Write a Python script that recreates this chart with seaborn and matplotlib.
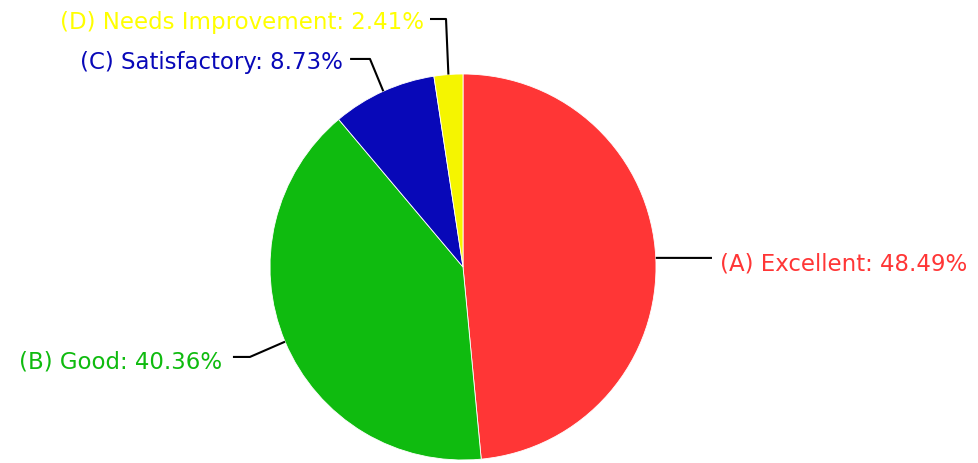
import numpy as np
import matplotlib
matplotlib.use("Agg")
import matplotlib.pyplot as plt
import seaborn as sns

# ---- data ----
categories = ["(A) Excellent", "(B) Good", "(C) Satisfactory", "(D) Needs Improvement"]
values = [48.49, 40.36, 8.73, 2.41]
slice_colors = ["#FF3636", "#0FBB0F", "#0808B8", "#F5F500"]
text_colors = ["#FF3636", "#0FBB0F", "#0808B8", "#FFFF00"]

# ---- layout (data units, radius = 1) ----
# elbow point, end of horizontal segment, text anchor, alignment
elbows = [(1.29, 0.047), (-1.104, -0.466), (-0.482, 1.078), (-0.088, 1.285)]
ends = [(1.29, 0.047), (-1.192, -0.466), (-0.585, 1.078), (-0.171, 1.285)]
text_pos = [(1.332, 0.022), (-1.25, -0.485), (-0.62, 1.065), (-0.20, 1.274)]
aligns = ["left", "right", "right", "right"]

sns.set_theme(style="white")
plt.rcParams['font.family'] = ['DejaVu Sans']

W, H = 979, 464
fig = plt.figure(figsize=(W / 100, H / 100), dpi=100)
cx, cy, r = 463, 268, 193
ax = fig.add_axes([(cx - r) / W, (H - cy - r) / H, 2 * r / W, 2 * r / H])

wedges, _ = ax.pie(values, colors=slice_colors, startangle=90, counterclock=False,
                   radius=1, wedgeprops=dict(edgecolor="white", linewidth=0.6))
ax.set_xlim(-1, 1)
ax.set_ylim(-1, 1)
ax.set_aspect("equal")
ax.axis("off")

for w, cat, v, col, el, en, tp, al in zip(wedges, categories, values, text_colors,
                                           elbows, ends, text_pos, aligns):
    ang = np.deg2rad((w.theta1 + w.theta2) / 2)
    ex, ey = np.cos(ang), np.sin(ang)
    ax.plot([ex, el[0], en[0]], [ey, el[1], en[1]], color="black", lw=1.5,
            clip_on=False, solid_capstyle="butt")
    ax.text(tp[0], tp[1], f"{cat}: {v:.2f}%", color=col, fontsize=16.5,
            ha=al, va="center", clip_on=False)

fig.savefig("out.png", dpi=100)
